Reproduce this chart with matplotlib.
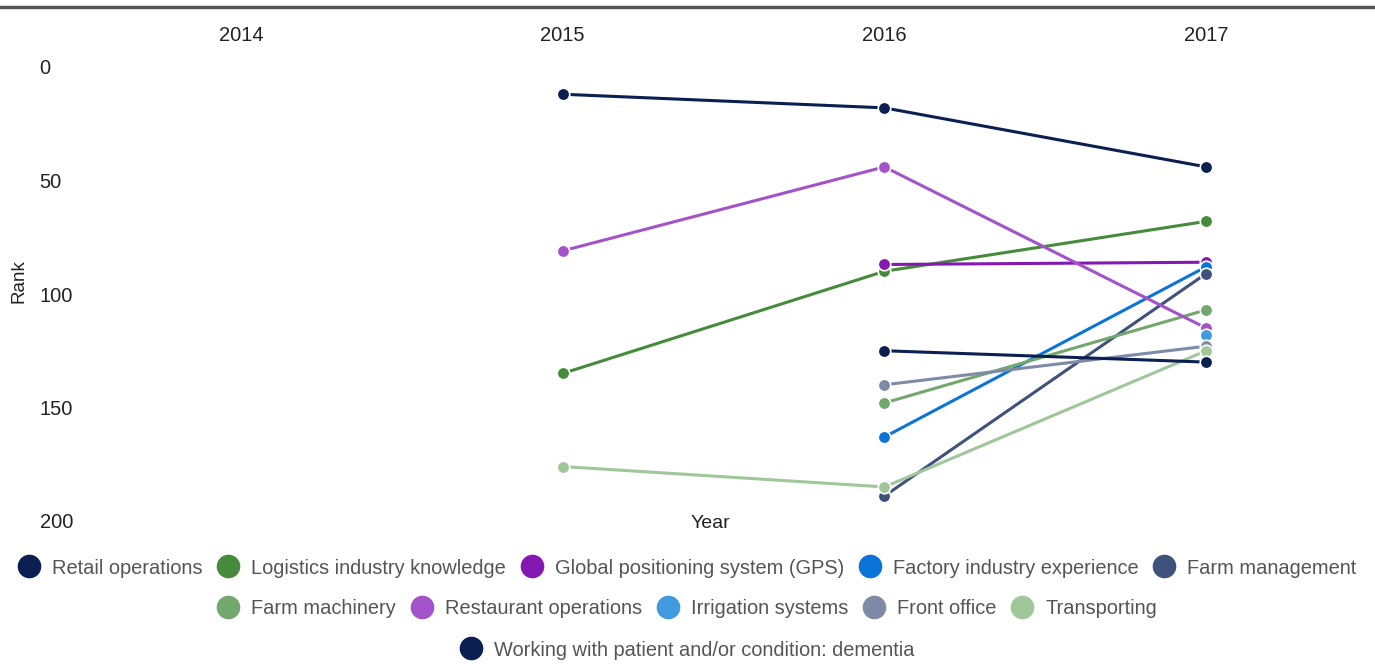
import matplotlib
matplotlib.use("Agg")
import matplotlib.pyplot as plt
from matplotlib.lines import Line2D

plt.rcParams["font.family"] = ["Liberation Sans", "DejaVu Sans"]

years = [2014, 2015, 2016, 2017]

retail_years = [2015, 2016, 2017]
retail_rank = [12, 18, 44]
logistics_years = [2015, 2016, 2017]
logistics_rank = [135, 90, 68]
gps_years = [2016, 2017]
gps_rank = [87, 86]
factory_years = [2016, 2017]
factory_rank = [163, 88]
farm_mgmt_years = [2016, 2017]
farm_mgmt_rank = [189, 91]
farm_mach_years = [2016, 2017]
farm_mach_rank = [148, 107]
restaurant_years = [2015, 2016, 2017]
restaurant_rank = [81, 44, 115]
irrigation_years = [2017]
irrigation_rank = [118]
front_office_years = [2016, 2017]
front_office_rank = [140, 123]
transporting_years = [2015, 2016, 2017]
transporting_rank = [176, 185, 125]
dementia_years = [2016, 2017]
dementia_rank = [125, 130]

series = [
    ("Retail operations", retail_years, retail_rank, "#0b1f51"),
    ("Logistics industry knowledge", logistics_years, logistics_rank, "#468b3c"),
    ("Global positioning system (GPS)", gps_years, gps_rank, "#8318b3"),
    ("Factory industry experience", factory_years, factory_rank, "#0b74d8"),
    ("Farm management", farm_mgmt_years, farm_mgmt_rank, "#3f527d"),
    ("Farm machinery", farm_mach_years, farm_mach_rank, "#72a86c"),
    ("Restaurant operations", restaurant_years, restaurant_rank, "#a452c9"),
    ("Irrigation systems", irrigation_years, irrigation_rank, "#3f9ae0"),
    ("Front office", front_office_years, front_office_rank, "#7e8ba6"),
    ("Transporting", transporting_years, transporting_rank, "#9fc79a"),
    ("Working with patient and/or condition: dementia", dementia_years, dementia_rank, "#0b1f51"),
]

W, H = 1375, 664
fig = plt.figure(figsize=(W / 100, H / 100), dpi=100)
ax = fig.add_axes([80 / W, 1 - 521 / H, (1367 - 80) / W, (521 - 67) / H])

for name, xs, ys, color in series:
    ax.plot(xs, ys, color=color, linewidth=2.2, marker="o", markersize=9,
            markeredgecolor="white", markeredgewidth=1.2, zorder=3)

ax.set_xlim(2013.5, 2017.5)
ax.set_ylim(200, 0)
ax.set_xticks(years)
ax.set_xticklabels([str(y) for y in years])
ax.set_yticks([0, 50, 100, 150, 200])
ax.xaxis.tick_top()
ax.tick_params(axis="x", length=0, pad=16, labelsize=14.5, labelcolor="#222222")
ax.tick_params(axis="y", length=0, pad=29, labelsize=14.5, labelcolor="#222222")
for lbl in ax.get_yticklabels():
    lbl.set_horizontalalignment("left")
for s in ax.spines.values():
    s.set_visible(False)

fig.text(19 / W, 1 - 281 / H, "Rank", rotation=90, ha="center", va="center",
         fontsize=13.5, color="#222222")
fig.text(710 / W, 1 - 523 / H, "Year", ha="center", va="center",
         fontsize=14, color="#222222")

# top rule
fig.add_artist(Line2D([0, 1], [1 - 7 / H, 1 - 7 / H], transform=fig.transFigure,
                      color="#555555", linewidth=2.5))

rows = [series[0:5], series[5:10], series[10:11]]
row_y = [568, 609, 650]
for row, y in zip(rows, row_y):
    handles = [Line2D([], [], linestyle="none", marker="o", markersize=16,
                      markerfacecolor=c, markeredgecolor=c) for _, _, _, c in row]
    fig.legend(handles, [n for n, _, _, _ in row], loc="center",
               bbox_to_anchor=(0.5, 1 - y / H), ncol=len(row), frameon=False,
               fontsize=14.45, handlelength=1.0, handletextpad=0.65,
               columnspacing=0.78, borderpad=0, labelcolor="#555555")

fig.savefig("out.png", dpi=100)
